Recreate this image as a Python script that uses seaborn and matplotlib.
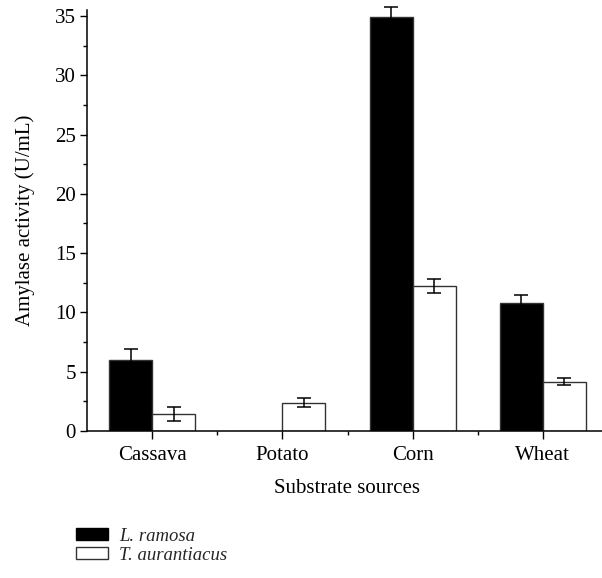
import matplotlib
matplotlib.use("Agg")
import matplotlib.pyplot as plt
from matplotlib.patches import Patch
from matplotlib.ticker import MultipleLocator, FixedLocator
import seaborn as sns
import pandas as pd
import numpy as np

substrates = ["Cassava", "Potato", "Corn", "Wheat"]
ramosa = [6.0, 0.0, 34.9, 10.8]
ramosa_err = [0.9, 0.0, 0.85, 0.65]
aurantiacus = [1.45, 2.4, 12.2, 4.15]
aurantiacus_err = [0.6, 0.4, 0.6, 0.3]
series = ["L. ramosa", "T. aurantiacus"]

df = pd.DataFrame({
    "Substrate": substrates * 2,
    "Organism": [series[0]] * 4 + [series[1]] * 4,
    "Activity": ramosa + aurantiacus,
})

sns.set_theme(style="ticks")
plt.rcParams["font.family"] = ["Liberation Serif", "DejaVu Serif"]

fig = plt.figure(figsize=(6.02, 5.78), dpi=100)
W, H = 602, 578
left_px, right_px, top_px, bottom_px = 87, 608, 10, 431
ax = fig.add_axes([left_px / W, (H - bottom_px) / H,
                   (right_px - left_px) / W, (bottom_px - top_px) / H])

sns.barplot(data=df, x="Substrate", y="Activity", hue="Organism",
            order=substrates, hue_order=series,
            palette=["black", "white"], edgecolor="#333333", linewidth=1.0,
            width=0.66, gap=0, errorbar=None, legend=False, ax=ax)

# error bars on top of the seaborn bars
patches = ax.patches
errs = ramosa_err + aurantiacus_err
vals = ramosa + aurantiacus
for p, v, e in zip(patches, vals, errs):
    if v <= 0:
        continue
    xc = p.get_x() + p.get_width() / 2
    ax.errorbar(xc, v, yerr=e, fmt="none", ecolor="black",
                elinewidth=1.1, capsize=5, capthick=1.1, clip_on=False, zorder=5)

ax.set_xlim(-0.5, 3.5)
ax.set_ylim(0, 35.5)
ax.yaxis.set_major_locator(MultipleLocator(5))
ax.yaxis.set_minor_locator(MultipleLocator(2.5))
ax.xaxis.set_minor_locator(FixedLocator([0.5, 1.5, 2.5]))
ax.tick_params(axis="y", which="major", length=5, width=1, labelsize=15, color="black", pad=3)
ax.tick_params(axis="y", which="minor", length=3, width=1, color="black")
ax.tick_params(axis="x", which="major", length=6, width=1, labelsize=15, color="black", pad=5)
ax.tick_params(axis="x", which="minor", length=3, width=1, color="black")
for lab in ax.get_xticklabels() + ax.get_yticklabels():
    lab.set_color("black")

sns.despine(ax=ax, top=True, right=True)
ax.spines["left"].set_linewidth(1.1)
ax.spines["bottom"].set_linewidth(1.1)
ax.spines["left"].set_color("black")
ax.spines["bottom"].set_color("black")

ax.set_xlabel("Substrate sources", fontsize=15, color="black", labelpad=10)
ax.set_ylabel("Amylase activity (U/mL)", fontsize=15, color="black", labelpad=14)

handles = [Patch(facecolor="black", edgecolor="black", linewidth=1.0),
           Patch(facecolor="white", edgecolor="#333333", linewidth=1.0)]
leg = fig.legend(handles, series, loc="upper left",
                 bbox_to_anchor=(72 / W, 1 - 524 / H),
                 frameon=False, prop={"style": "italic", "size": 13.5},
                 handlelength=1.7, handleheight=0.6, handletextpad=0.6,
                 labelspacing=0.1, borderaxespad=0, borderpad=0.2)

fig.savefig("out.png", dpi=100)
